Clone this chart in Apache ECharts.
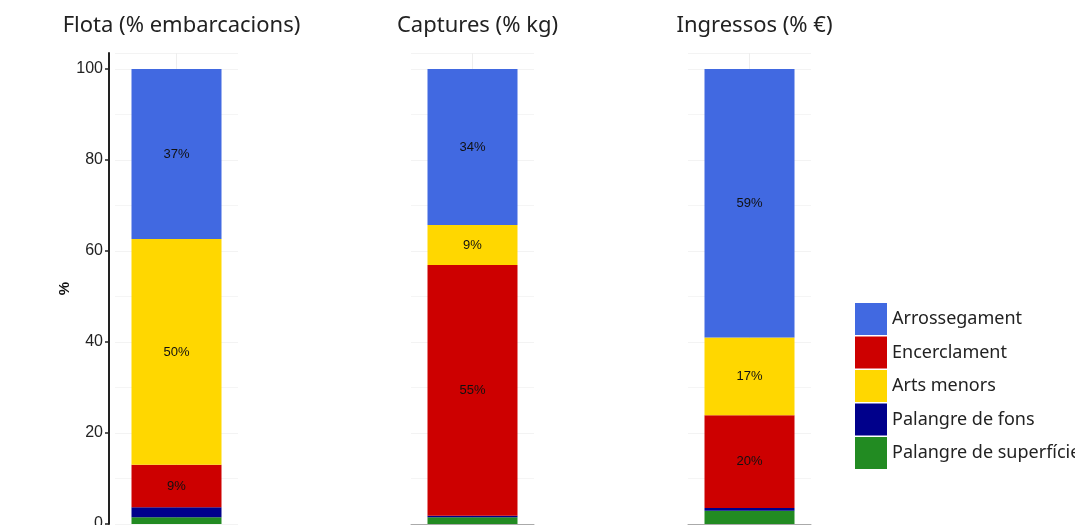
<!DOCTYPE html>
<html>
<head>
<meta charset="utf-8">
<script src="https://cdn.jsdelivr.net/npm/echarts@6/dist/echarts.min.js"></script>
<style>html,body{margin:0;padding:0;background:#fff}#c{width:1075px;height:525px}</style>
</head>
<body>
<div id="c"></div>
<script>
// Panels (facets)
const panels = ['Flota (% embarcacions)', 'Captures (% kg)', 'Ingressos (% €)'];
// Gear types (legend order)
const gears = ['Arrossegament', 'Encerclament', 'Arts menors', 'Palangre de fons', 'Palangre de superfície'];
// Values per panel (Flota, Captures, Ingressos), in %
const arrossegament = [37.4, 34.3, 59.0];
const encerclament = [9.3, 55.1, 20.4];
const artsMenors = [49.6, 8.8, 17.1];
const palangreFons = [2.2, 0.3, 0.6];
const palangreSuperficie = [1.5, 1.5, 2.9];
// Y tick values
const yTicks = [0, 20, 40, 60, 80, 100];

const gearValues = {
  'Arrossegament': arrossegament,
  'Encerclament': encerclament,
  'Arts menors': artsMenors,
  'Palangre de fons': palangreFons,
  'Palangre de superfície': palangreSuperficie
};
const colors = {
  'Arrossegament': '#4169E1',
  'Encerclament': '#CD0000',
  'Arts menors': '#FFD700',
  'Palangre de fons': '#00008B',
  'Palangre de superfície': '#228B22'
};
// stacking order bottom -> top
const stackOrder = ['Palangre de superfície', 'Palangre de fons', 'Encerclament', 'Arts menors', 'Arrossegament'];

const gridLefts = [115, 411, 688];
const gridW = 123;
const grids = [], xAxes = [], yAxes = [], series = [], titles = [];
panels.forEach((p, i) => {
  grids.push({ left: gridLefts[i], width: gridW, top: 53, bottom: 1, outerBoundsMode: 'none', containLabel: false });
  titles.push({
    text: p, left: gridLefts[i] + gridW / 2, top: 10, textAlign: 'center',
    textStyle: { fontFamily: 'Noto Sans', fontSize: 22, fontWeight: 'normal', color: '#222' }
  });
  xAxes.push({
    type: 'category', gridIndex: i, data: [p],
    axisLine: { show: i !== 0, lineStyle: { color: '#aaa', width: 1 } },
    axisTick: { show: false }, axisLabel: { show: false }, splitLine: { show: false }
  });
  yAxes.push({
    type: 'value', gridIndex: i, min: 0, max: 103.5, interval: 20,
    offset: i === 0 ? 6 : 0,
    name: i === 0 ? '%' : '', nameLocation: 'middle', nameGap: 37, nameRotate: 90,
    nameTextStyle: { fontFamily: 'Liberation Sans', fontSize: 15, fontWeight: 'bold', color: '#111' },
    axisLine: { show: i === 0, lineStyle: { color: '#222', width: 2 } },
    axisTick: { show: i === 0, length: 4, lineStyle: { color: '#222', width: 1.5 } },
    axisLabel: {
      show: i === 0, margin: 6, showMaxLabel: false,
      fontFamily: 'Liberation Sans', fontSize: 16, color: '#222',
      formatter: v => yTicks.includes(v) ? String(v) : ''
    },
    splitLine: { show: true, lineStyle: { color: '#f3f3f3', width: 1 } },
    minorTick: { show: false, splitNumber: 2 },
    minorSplitLine: { show: true, lineStyle: { color: '#f5f5f5', width: 1 } }
  });
  // vertical faint gridline at bar centre
  series.push({
    type: 'line', xAxisIndex: i, yAxisIndex: i, data: [null], z: 0, silent: true,
    markLine: {
      z: 0, symbol: 'none', silent: true, label: { show: false },
      lineStyle: { color: '#eeeeee', type: 'solid', width: 1 },
      data: [{ xAxis: 0 }]
    }
  });
  stackOrder.forEach(g => {
    series.push({
      name: g, type: 'bar', stack: 'p' + i, xAxisIndex: i, yAxisIndex: i,
      barWidth: 90, z: 2,
      itemStyle: { color: colors[g] },
      data: [gearValues[g][i]],
      label: {
        show: true, position: 'inside', color: '#111',
        fontFamily: 'Liberation Sans', fontSize: 13,
        formatter: d => d.value >= 5 ? Math.round(d.value) + '%' : ''
      },
      emphasis: { disabled: true }
    });
  });
});

const chart = echarts.init(document.getElementById('c'), null, { renderer: 'canvas' });
chart.setOption({
  animation: false,
  backgroundColor: '#fff',
  title: titles,
  grid: grids,
  xAxis: xAxes,
  yAxis: yAxes,
  legend: {
    data: gears, orient: 'vertical', left: 850, top: 298,
    itemWidth: 32, itemHeight: 32, itemGap: 1.5, icon: 'rect',
    textStyle: { fontFamily: 'Noto Sans', fontSize: 18, color: '#222', padding: [0, 0, 6, 0] },
    selectedMode: false
  },
  series: series
});
</script>
</body>
</html>
